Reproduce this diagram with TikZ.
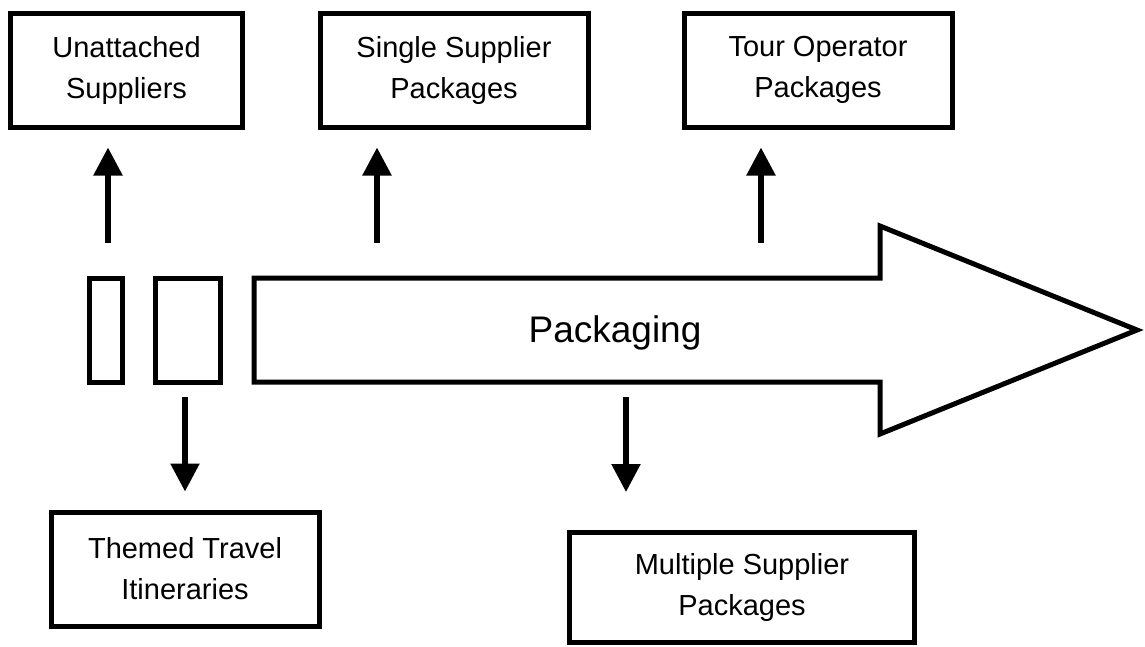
\documentclass[tikz,border=0pt]{standalone}
\usepackage{fontspec}
\setmainfont{Liberation Sans}
\usetikzlibrary{arrows.meta}

\begin{document}
\begin{tikzpicture}[x = 1pt, y = -1pt,
    box/.style  = {draw, black, line width = 5pt, minimum width = 268pt, minimum height = 114pt,
                   inner sep = 0pt, align = center, font = \fontsize{29}{41}\selectfont},
    flow/.style = {black, line width = 5.5pt, -{Triangle[width = 28pt, length = 28pt]}}]
    \useasboundingbox (0, 0) rectangle (1145, 646);

    % top row
    \node [box, minimum width = 232pt] (unattached)   at (126.5, 70) {Unattached\\Suppliers};
    \node [box]                        (single)       at (454, 70)   {Single Supplier\\Packages};
    \node [box]                        (touroperator) at (818, 70)   {Tour Operator\\Packages};

    % bottom row
    \node [box]                        (themed)       at (185, 569)  {Themed Travel\\Itineraries};
    \node [box, minimum width = 345pt, minimum height = 110pt] (multiple) at (742, 587.5) {Multiple Supplier\\Packages};

    \begin{scope}[local bounding box = packagingarrow]
        \draw [black, line width = 5pt] (89, 278) rectangle (122, 382);
        \draw [black, line width = 5pt] (155, 278) rectangle (220, 382);
        \draw [black, line width = 5pt, line join = miter]
            (254, 278) -- (880, 278) -- (880, 226) -- (1137, 330)
            -- (880, 434) -- (880, 382) -- (254, 382) -- cycle;
        \node [font = \fontsize{37}{44}\selectfont] (packaging) at (615, 333) {Packaging};
    \end{scope}

    \coordinate (up1)   at (108, 243);
    \coordinate (up2)   at (377, 243);
    \coordinate (up3)   at (761, 243);
    \coordinate (down1) at (185, 397);
    \coordinate (down2) at (626, 397);

    % up
    \draw [flow, shorten > = 18pt] (up1) -- (up1 |- unattached.south);
    \draw [flow, shorten > = 18pt] (up2) -- (up2 |- single.south);
    \draw [flow, shorten > = 18pt] (up3) -- (up3 |- touroperator.south);
    % down
    \draw [flow, shorten > = 18pt] (down1) -- (down1 |- themed.north);
    \draw [flow, shorten > = 38pt] (down2) -- (down2 |- multiple.north);

\end{tikzpicture}
\end{document}
